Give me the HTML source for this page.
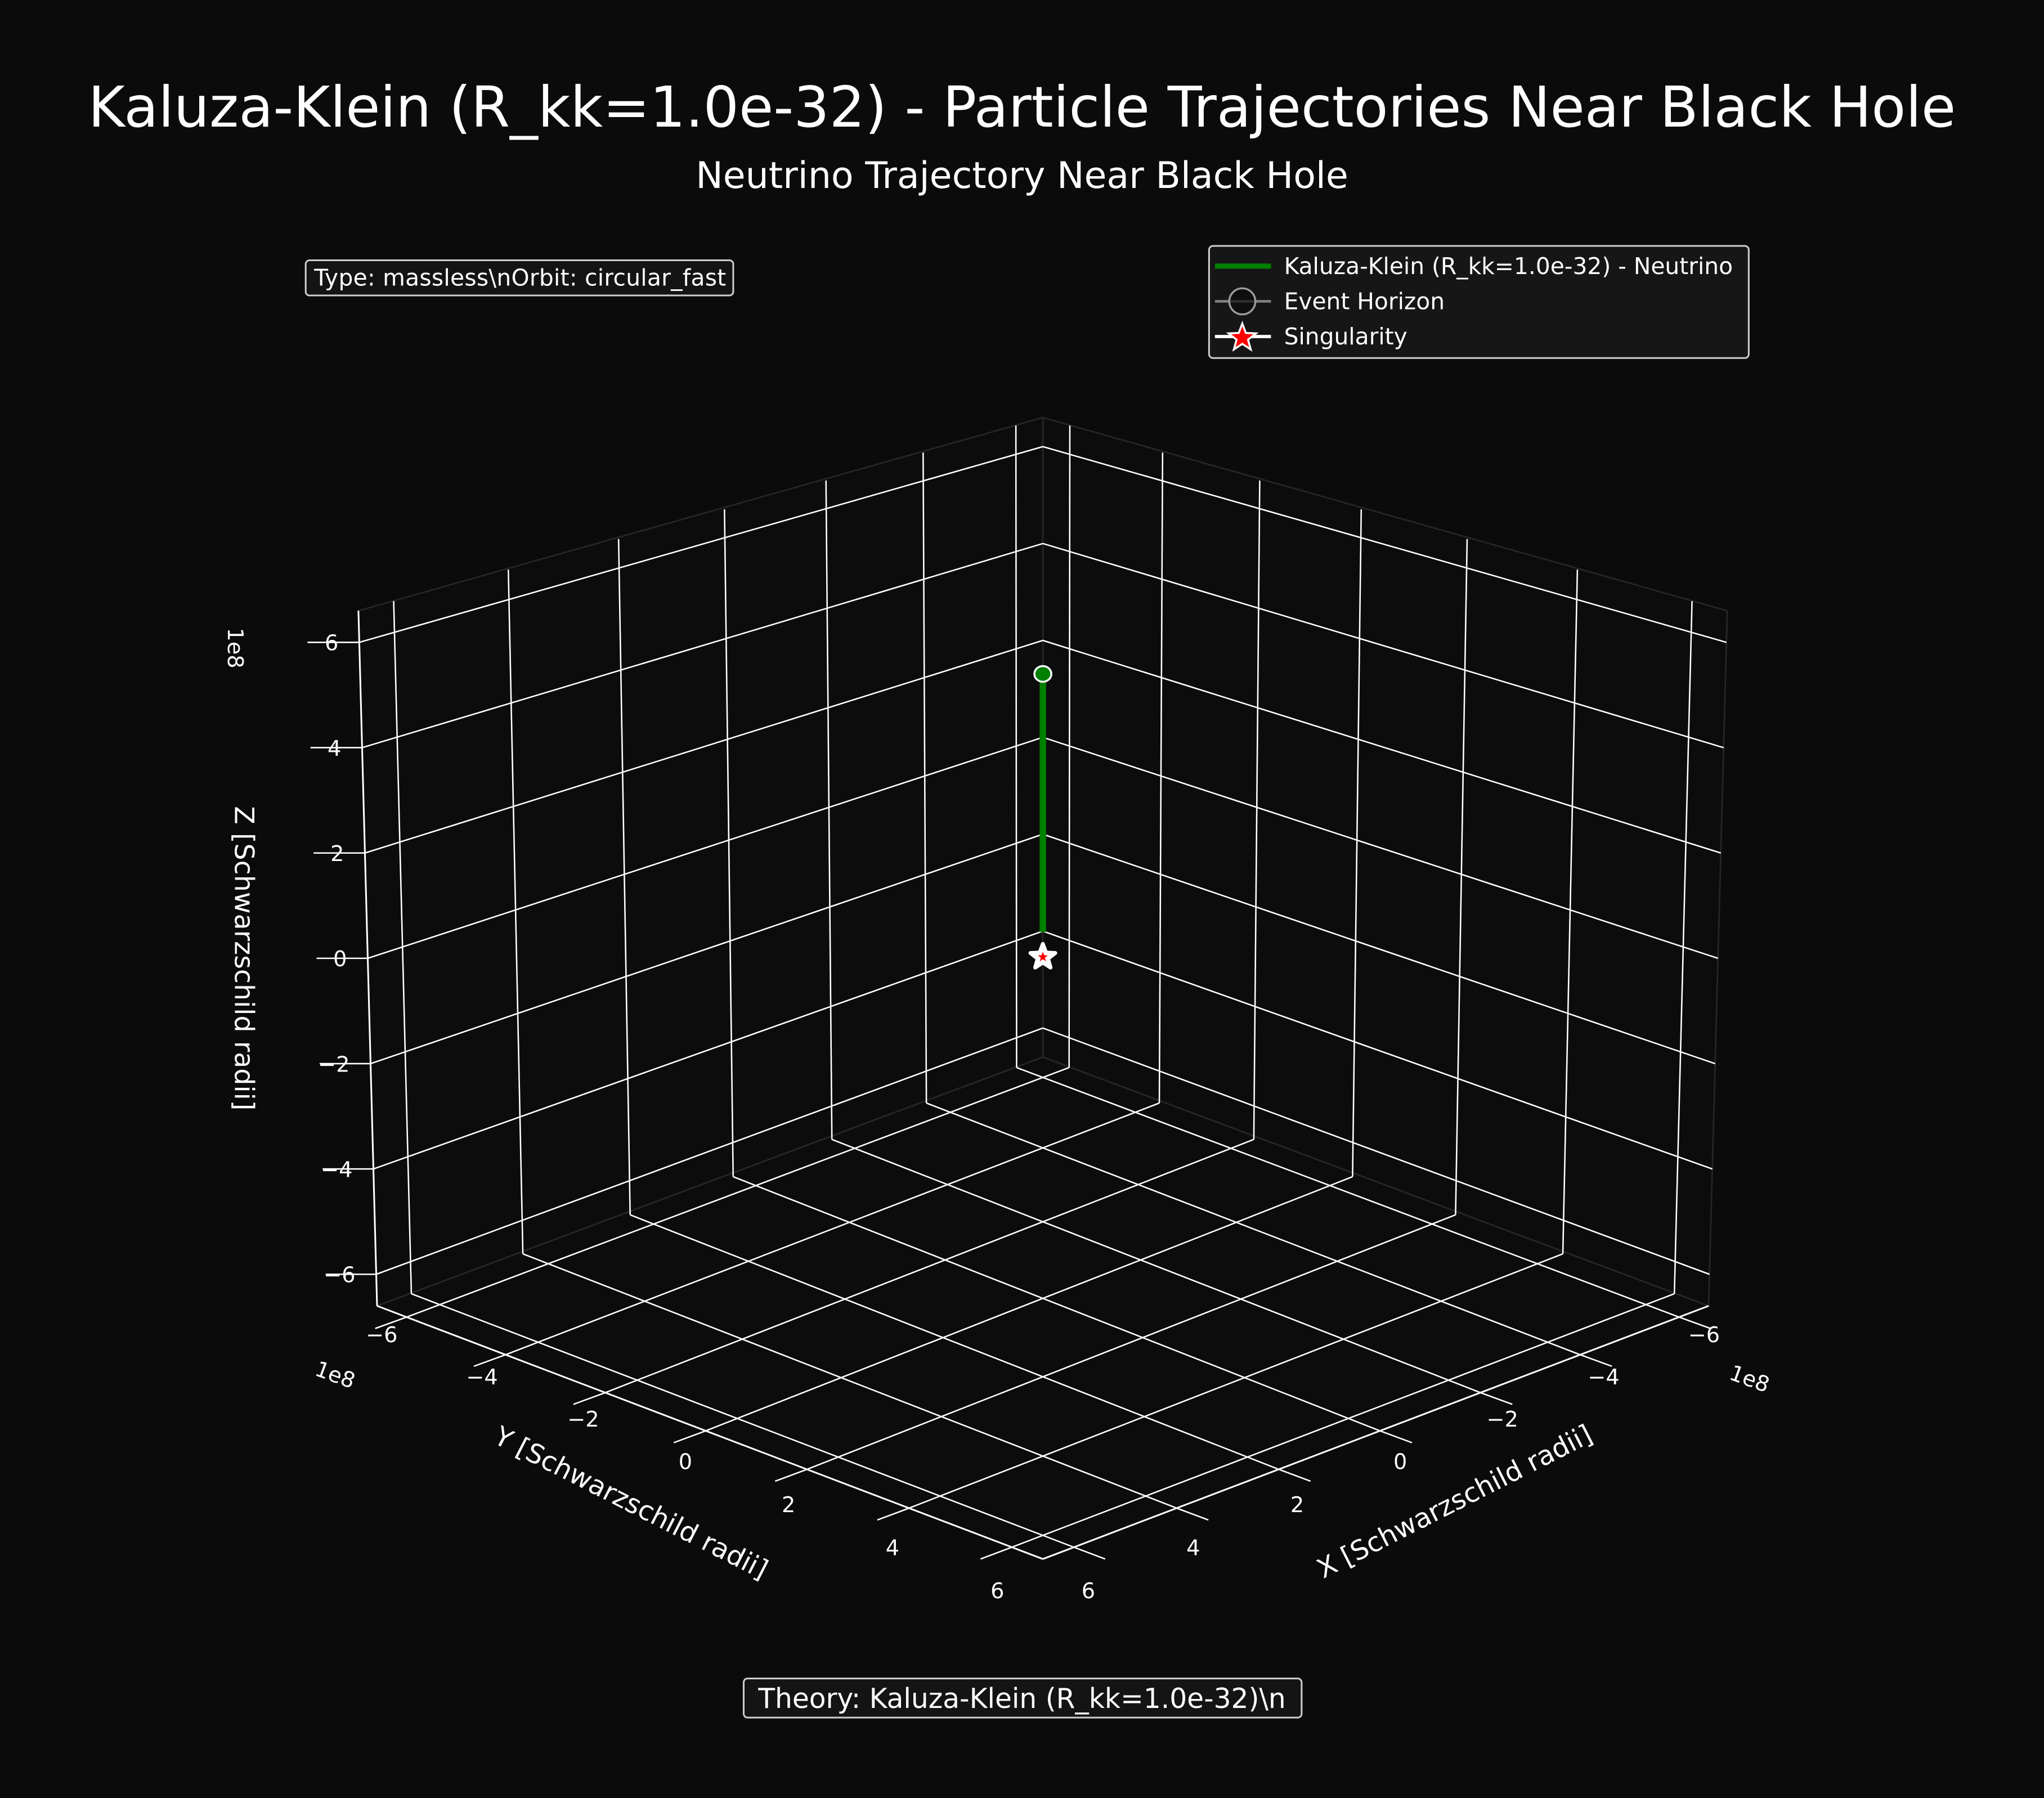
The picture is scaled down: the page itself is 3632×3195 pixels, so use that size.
<!DOCTYPE html>
<html><head><meta charset="utf-8"><style>
html,body{margin:0;padding:0;background:#0b0b0b;}
svg{display:block;font-family:"DejaVu Sans","Liberation Sans",sans-serif;}
</style></head><body>
<svg id="chart" width="3632" height="3195" viewBox="0 0 1568 1379" xmlns="http://www.w3.org/2000/svg">
<rect width="1568" height="1379" fill="#0b0b0b"/>
<text x="784" y="97" font-size="43" fill="#ffffff" text-anchor="middle">Kaluza-Klein (R_kk=1.0e-32) - Particle Trajectories Near Black Hole</text>
<text x="784" y="144" font-size="28" fill="#ffffff" text-anchor="middle">Neutrino Trajectory Near Black Hole</text>
<g id="axes3d"></g>
<g>
<rect x="234.5" y="199.5" width="328" height="27" rx="3" fill="#141414" stroke="#cfcfcf" stroke-width="1.3"/>
<text x="399" y="219" font-size="17.6" fill="#ffffff" text-anchor="middle" textLength="316">Type: massless\nOrbit: circular_fast</text>
</g>
<g>
<rect x="927.5" y="188.5" width="414" height="86" rx="3" fill="#161616" stroke="#cfcfcf" stroke-width="1.3"/>
<line x1="932" y1="204" x2="975" y2="204" stroke="#008000" stroke-width="4"/>
<text x="985" y="210" font-size="17.6" fill="#ffffff">Kaluza-Klein (R_kk=1.0e-32) - Neutrino</text>
<line x1="932" y1="231" x2="975" y2="231" stroke="#808080" stroke-width="2"/>
<ellipse cx="953" cy="231" rx="10" ry="10" fill="#0b0b0b" fill-opacity="0.7" stroke="#9a9a9a" stroke-width="1.5"/>
<text x="985" y="237" font-size="17.6" fill="#ffffff">Event Horizon</text>
<line x1="932" y1="258" x2="975" y2="258" stroke="#ffffff" stroke-width="2.5"/>
<polygon id="legstar" fill="#ff0000" stroke="#ffffff" stroke-width="1.5"/>
<text x="985" y="264" font-size="17.6" fill="#ffffff">Singularity</text>
</g>
<g>
<rect x="570.5" y="1287.5" width="428" height="30" rx="3" fill="#141414" stroke="#cfcfcf" stroke-width="1.3"/>
<text x="784" y="1310" font-size="21" fill="#ffffff" text-anchor="middle">Theory: Kaluza-Klein (R_kk=1.0e-32)\n</text>
</g>
</svg>
<script>
const ticks = [-6, -4, -2, 0, 2, 4, 6];
const tickLabels = ["\u22126", "\u22124", "\u22122", "0", "2", "4", "6"];
const trajX = [0, 0];
const trajY = [0, 0];
const trajZ = [5.4, 0.5];
const singularity = [0, 0, 0];

const NS = "http://www.w3.org/2000/svg";
const L = 6.6;
function P(x, y, z) {
  const d = (x + y) / (2 * L);
  const sh = d < 0 ? 1.005 + 0.14 * d : 1.005 + 0.03 * d;
  const sv = d < 0 ? 1 + 0.08 * d : 1 + 0.022 * d;
  const A = 38.5 * (1 + 0.014 * (z + L) / L);
  return [800 + sh * A * (y - x), 735 + sv * (13.96 * (x + y) - 40.4 * z)];
}
const g = document.getElementById('axes3d');
function mk(tag, attrs, parent) {
  const e = document.createElementNS(NS, tag);
  for (const k in attrs) e.setAttribute(k, attrs[k]);
  (parent || g).appendChild(e);
  return e;
}
function line3(a, b, stroke, w, name) {
  const p = P(...a), q = P(...b);
  const e = mk('line', {x1: p[0], y1: p[1], x2: q[0], y2: q[1], stroke: stroke, 'stroke-width': w});
  
  
  return e;
}
function poly3(pts, fill, name) {
  const e = mk('polygon', {points: pts.map(p => P(...p).join(',')).join(' '), fill: fill, stroke: '#262626', 'stroke-width': 1.2});
  
  
}
poly3([[-L,-L,-L],[L,-L,-L],[L,-L,L],[-L,-L,L]], '#0c0c0c', 'left-pane');
poly3([[-L,-L,-L],[-L,L,-L],[-L,L,L],[-L,-L,L]], '#0c0c0c', 'right-pane');
poly3([[-L,-L,-L],[L,-L,-L],[L,L,-L],[-L,L,-L]], '#0c0c0c', 'floor-pane');
ticks.forEach(t => {
  line3([t,-L,-L],[t,-L,L],'#ffffff',1.1,'grid-line');
  line3([-L,-L,t],[L,-L,t],'#ffffff',1.1,'grid-line');
  line3([-L,t,-L],[-L,t,L],'#ffffff',1.1,'grid-line');
  line3([-L,-L,t],[-L,L,t],'#ffffff',1.1,'grid-line');
  line3([t,-L,-L],[t,L,-L],'#ffffff',1.1,'grid-line');
  line3([-L,t,-L],[L,t,-L],'#ffffff',1.1,'grid-line');
});
line3([-L,L,-L],[L,L,-L],'#ffffff',1.3,'x-axis-line');
line3([L,-L,-L],[L,L,-L],'#ffffff',1.3,'y-axis-line');
line3([L,-L,-L],[L,-L,L],'#ffffff',1.3,'z-axis-line');
function txt(x, y, s, size, name, extra) {
  const e = mk('text', Object.assign({x: x, y: y, 'font-size': size, fill: '#ffffff', 'text-anchor': 'middle', 'dominant-baseline': 'central'}, extra || {}));
  e.textContent = s;
  
  
  return e;
}
ticks.forEach((t, i) => {
  const f = (t + 6) / 12;
  line3([t, L, -L], [t, L + 0.6, -L], '#ffffff', 1.1, 'x-tick');
  let p = P(t, L, -L);
  txt(p[0] + 19 - 8 * f, p[1] + 14 + 20 * f, tickLabels[i], 16.5, 'x-tick-label');
  line3([L, t, -L], [L + 0.6, t, -L], '#ffffff', 1.1, 'y-tick');
  p = P(L, t, -L);
  txt(p[0] - 19 + 8 * f, p[1] + 14 + 20 * f, tickLabels[i], 16.5, 'y-tick-label');
  line3([L, -L, t], [L + 0.5, -L - 0.5, t], '#ffffff', 1.1, 'z-tick');
  p = P(L, -L, t);
  txt(p[0] - 16, p[1] + 1, tickLabels[i], 16.5, 'z-tick-label', {'text-anchor': 'end'});
});
txt(1116, 1152, 'X [Schwarzschild radii]', 20.5, 'x-axis-title', {transform: 'rotate(-27 1116 1152)'});
txt(484, 1153, 'Y [Schwarzschild radii]', 20.5, 'y-axis-title', {transform: 'rotate(27 484 1153)'});
txt(187, 735, 'Z [Schwarzschild radii]', 20.5, 'z-axis-title', {transform: 'rotate(90 187 735)'});
txt(1342, 1058, '1e8', 16.5, 'x-offset-label', {transform: 'rotate(20 1342 1058)'});
txt(257, 1055, '1e8', 16.5, 'y-offset-label', {transform: 'rotate(20 257 1055)'});
txt(180, 497, '1e8', 16.5, 'z-offset-label', {transform: 'rotate(90 180 497)'});
const pts = trajX.map((x, i) => P(x, trajY[i], trajZ[i]));
const path = mk('polyline', {points: pts.map(p => p.join(',')).join(' '), fill: 'none', stroke: '#008000', 'stroke-width': 5});


const st = pts[0];
const sm = mk('ellipse', {cx: st[0], cy: st[1], rx: 6.5, ry: 6, fill: '#008000', stroke: '#ffffff', 'stroke-width': 1.5});


function starPts(cx, cy, R) {
  const a = [];
  for (let k = 0; k < 10; k++) {
    const r = k % 2 ? R * 0.42 : R;
    const ang = -Math.PI / 2 + k * Math.PI / 5;
    a.push((cx + r * Math.cos(ang)).toFixed(2) + ',' + (cy + r * Math.sin(ang)).toFixed(2));
  }
  return a.join(' ');
}
const sp = P(...singularity);
const sw = mk('polygon', {points: starPts(sp[0], sp[1] - 1, 10), fill: '#ffffff', stroke: '#ffffff', 'stroke-width': 3, 'stroke-linejoin': 'round'});


const sr = mk('polygon', {points: starPts(sp[0], sp[1] - 1, 4), fill: '#ff0000'});


document.getElementById('legstar').setAttribute('points', starPts(953, 259, 11));
</script>
</body></html>
